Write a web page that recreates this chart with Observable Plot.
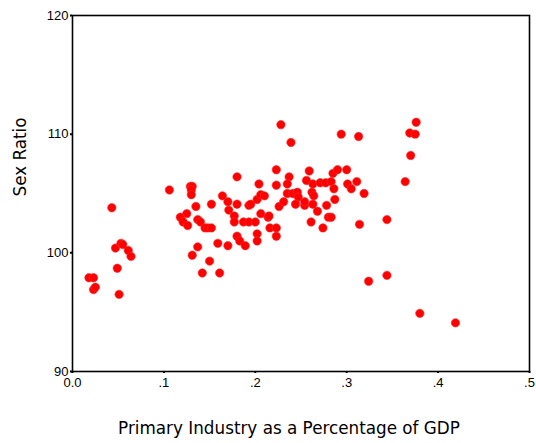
<!DOCTYPE html>
<html>
<head>
<meta charset="utf-8">
<script src="https://cdn.jsdelivr.net/npm/d3@7"></script>
<script src="https://cdn.jsdelivr.net/npm/@observablehq/plot@0.6"></script>
<style>
  html, body { margin: 0; padding: 0; background: #fff; }
  #chart svg { display: block; }
</style>
</head>
<body>
<div id="chart"></div>
<script>
// Primary industry share of GDP (x) against sex ratio (y), one entry per region
const primaryShare = [
  0.018, 0.023, 0.023, 0.025, 0.051, 0.049, 0.043, 0.047, 0.053, 0.055, 0.061, 0.064,
  0.106, 0.129, 0.131, 0.130, 0.130, 0.135, 0.125, 0.118, 0.121, 0.126, 0.137, 0.140,
  0.145, 0.148, 0.152, 0.152, 0.131, 0.137, 0.150, 0.142, 0.161, 0.159, 0.170,
  0.164, 0.170, 0.180, 0.180, 0.171, 0.177, 0.177, 0.187, 0.193, 0.200, 0.180, 0.183,
  0.189, 0.193, 0.195, 0.202, 0.206, 0.210, 0.204, 0.206, 0.214, 0.215, 0.202, 0.202,
  0.216, 0.223, 0.223, 0.223, 0.223, 0.226, 0.228, 0.239, 0.237, 0.235, 0.235, 0.241,
  0.246, 0.247, 0.231, 0.244, 0.254, 0.254, 0.256, 0.259, 0.262, 0.263, 0.263, 0.264,
  0.268, 0.271, 0.277, 0.283, 0.278, 0.261, 0.274, 0.280, 0.283, 0.285, 0.290, 0.300,
  0.286, 0.287, 0.294, 0.313, 0.301, 0.311, 0.305, 0.319, 0.314, 0.344, 0.324, 0.344,
  0.364, 0.370, 0.369, 0.375, 0.376, 0.380, 0.419
];
const sexRatio = [
  97.9, 97.9, 96.9, 97.1, 96.5, 98.7, 103.8, 100.4, 100.8, 100.7, 100.2, 99.7,
  105.3, 105.6, 105.6, 105.3, 104.9, 103.9, 103.3, 103.0, 102.6, 102.3, 102.8, 102.6,
  102.1, 102.1, 102.1, 104.1, 99.8, 100.5, 99.3, 98.3, 98.3, 100.8, 100.6,
  104.8, 104.3, 104.1, 106.4, 103.6, 103.1, 102.6, 102.6, 102.6, 102.6, 101.4, 101.0,
  100.6, 104.0, 104.1, 104.5, 104.9, 104.8, 105.8, 103.3, 103.0, 103.1, 101.6, 101.0,
  102.1, 102.1, 101.4, 105.7, 107.0, 103.9, 110.8, 109.3, 106.4, 105.8, 105.0, 105.0,
  105.1, 104.7, 104.3, 104.1, 104.0, 104.3, 106.1, 106.9, 105.1, 105.8, 104.1, 104.8,
  103.5, 105.9, 105.9, 106.0, 104.0, 102.6, 102.1, 103.0, 103.0, 106.7, 107.0, 107.0,
  105.4, 104.5, 110.0, 109.8, 105.8, 106.0, 105.4, 105.0, 102.4, 102.8, 97.6, 98.1,
  106.0, 108.2, 110.1, 110.0, 111.0, 94.9, 94.1
];

const xTicks = [0, 0.1, 0.2, 0.3, 0.4, 0.5];
const xTickLabels = ["0.0", ".1", ".2", ".3", ".4", ".5"];
const yTicks = [90, 100, 110, 120];

const xTitle = "Primary Industry as a Percentage of GDP";
const yTitle = "Sex Ratio";

const points = primaryShare.map((x, i) => ({x, y: sexRatio[i]}));

const chart = Plot.plot({
  width: 536,
  height: 443,
  marginLeft: 72,
  marginRight: 7,
  marginTop: 15,
  marginBottom: 72,
  style: {fontFamily: "'Liberation Sans', Arial, sans-serif", fontSize: "13px", color: "#000", background: "#fff"},
  x: {domain: [0, 0.5]},
  y: {domain: [90, 120]},
  marks: [
    Plot.frame({stroke: "#000", strokeWidth: 1.6}),
    Plot.axisX({
      ticks: xTicks,
      tickFormat: (d, i) => xTickLabels[i],
      tickSize: 2,
      tickPadding: 4,
      strokeWidth: 2,
      fontSize: 13,
      label: null
    }),
    Plot.axisY({
      ticks: yTicks,
      tickSize: 2,
      tickPadding: 2,
      strokeWidth: 2,
      fontSize: 13,
      label: null
    }),
    Plot.dot(points, {x: "x", y: "y", r: 4.2, fill: "#ff0000", stroke: "#ff2a2a", strokeWidth: 0.6}),
    Plot.text([xTitle], {
      frameAnchor: "bottom", dx: -12, dy: 57, lineAnchor: "middle",
      fontFamily: "'DejaVu Sans', Verdana, sans-serif", fontSize: 16.8, fill: "#000"
    }),
    Plot.text([yTitle], {
      frameAnchor: "left", dx: -52, dy: 3, rotate: -90, lineAnchor: "middle",
      fontFamily: "'DejaVu Sans', Verdana, sans-serif", fontSize: 16.8, fill: "#000"
    })
  ]
});

document.getElementById("chart").append(chart);
</script>
</body>
</html>
